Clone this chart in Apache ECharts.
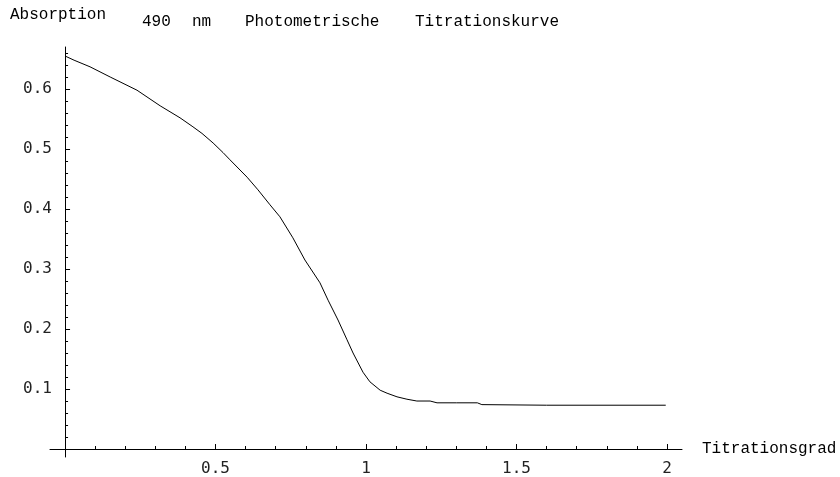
<!DOCTYPE html>
<html>
<head>
<meta charset="utf-8">
<script src="https://cdn.jsdelivr.net/npm/echarts@6/dist/echarts.min.js"></script>
<style>
  html, body { margin: 0; padding: 0; background: #fff; }
  #main { width: 840px; height: 477px; }
</style>
</head>
<body>
<div id="main"></div>
<script>
// Titrationsgrad (x) und Absorption (y)
var titrGrad = [0, 0.03, 0.083, 0.15, 0.239, 0.316, 0.382, 0.425, 0.455, 0.492, 0.525, 0.548, 0.605, 0.641,
  0.681, 0.714, 0.757, 0.797, 0.847, 0.874, 0.907, 0.937, 0.957, 0.99, 1.013, 1.047, 1.07, 1.103, 1.136,
  1.169, 1.213, 1.236, 1.3, 1.37, 1.385, 1.6, 1.996];
var absorption = [0.655, 0.648, 0.637, 0.62, 0.598, 0.572, 0.552, 0.537, 0.526, 0.51, 0.494, 0.482, 0.453, 0.432,
  0.407, 0.387, 0.352, 0.315, 0.277, 0.248, 0.215, 0.182, 0.16, 0.128, 0.112, 0.098, 0.093, 0.087, 0.083,
  0.08, 0.08, 0.077, 0.077, 0.077, 0.074, 0.073, 0.073];

// Achsenbeschriftung
var xMajor = [0.5, 1, 1.5, 2];
var xMinor = [0.1, 0.2, 0.3, 0.4, 0.6, 0.7, 0.8, 0.9, 1.1, 1.2, 1.3, 1.4, 1.6, 1.7, 1.8, 1.9];
var yMajor = [0.1, 0.2, 0.3, 0.4, 0.5, 0.6];
var yMinor = [0.02, 0.04, 0.06, 0.08, 0.12, 0.14, 0.16, 0.18, 0.22, 0.24, 0.26, 0.28, 0.32, 0.34, 0.36, 0.38,
  0.42, 0.44, 0.46, 0.48, 0.52, 0.54, 0.56, 0.58, 0.62, 0.64, 0.66];
var titleWords = ['490', 'nm', 'Photometrische', 'Titrationskurve'];

var lineCol = '#000';
var monoFont = 'Liberation Mono';
var labelFont = 'DejaVu Sans Mono';

var points = titrGrad.map(function (x, i) { return [x, absorption[i]]; });

var myChart = echarts.init(document.getElementById('main'));

function xAxisBase() {
  return {
    type: 'value',
    min: -0.05,
    max: 2.05,
    position: 'bottom',
    splitLine: { show: false },
    axisLine: { onZero: true, onZeroAxisIndex: 0, lineStyle: { color: lineCol, width: 1 } }
  };
}
function yAxisBase() {
  return {
    type: 'value',
    min: -0.0133,
    max: 0.67,
    position: 'left',
    splitLine: { show: false },
    axisLine: { onZero: true, onZeroAxisIndex: 0, lineStyle: { color: lineCol, width: 1 } }
  };
}

var xMain = xAxisBase();
xMain.name = 'Titrationsgrad';
xMain.nameLocation = 'end';
xMain.nameGap = 20;
xMain.nameTextStyle = { fontFamily: monoFont, fontSize: 16, color: '#000' };
xMain.axisTick = { inside: true, length: 5, customValues: xMajor, lineStyle: { color: lineCol } };
xMain.axisLabel = { customValues: xMajor, margin: 4, fontFamily: labelFont, fontSize: 16, color: '#222' };

var xSub = xAxisBase();
xSub.axisLine.show = false;
xSub.axisTick = { inside: true, length: 3, customValues: xMinor, lineStyle: { color: lineCol } };
xSub.axisLabel = { show: false };

var yMain = yAxisBase();
yMain.axisTick = { inside: true, length: 5, customValues: yMajor, lineStyle: { color: lineCol } };
yMain.axisLabel = { customValues: yMajor, margin: -2, fontFamily: labelFont, fontSize: 16, color: '#222' };

var ySub = yAxisBase();
ySub.axisLine.show = false;
ySub.axisTick = { inside: true, length: 3, customValues: yMinor, lineStyle: { color: lineCol } };
ySub.axisLabel = { show: false };

var titleX = [142, 192, 245, 415];
var graphics = [{
  type: 'text', left: 10, top: 7,
  style: { text: 'Absorption', font: '16px "' + monoFont + '"', fill: '#000' }
}];
titleWords.forEach(function (w, i) {
  graphics.push({
    type: 'text', left: titleX[i], top: 14,
    style: { text: w, font: '16px "' + monoFont + '"', fill: '#000' }
  });
});

var option = {
  animation: false,
  backgroundColor: '#fff',
  grid: { left: 50, right: 158, top: 47, bottom: 20 },
  graphic: graphics,
  xAxis: [xMain, xSub],
  yAxis: [yMain, ySub],
  series: [
    {
      type: 'line',
      xAxisIndex: 0,
      yAxisIndex: 0,
      data: points,
      showSymbol: false,
      lineStyle: { color: lineCol, width: 1 }
    }
  ]
};
myChart.setOption(option);
</script>
</body>
</html>
